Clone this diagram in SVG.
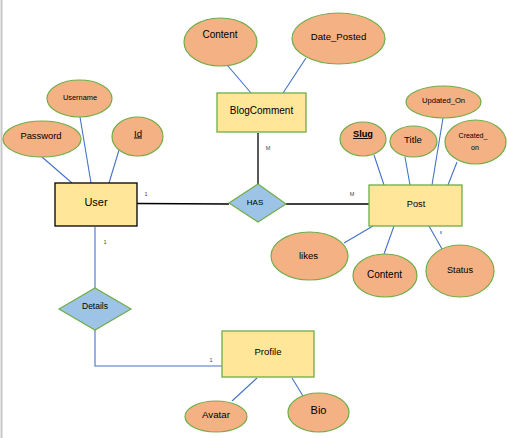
<svg xmlns="http://www.w3.org/2000/svg" width="507" height="438" viewBox="0 0 507 438">
<style>
.attr{fill:#F4B183;stroke:#70AD47;stroke-width:1.2}
.ent{fill:#FFE699;stroke:#70AD47;stroke-width:1.3}
.rel{fill:#9DC3E6;stroke:#70AD47;stroke-width:1.2}
.ln{stroke:#4472C4;stroke-width:1.1;fill:none}
.bk{stroke:#000;stroke-width:1.3;fill:none}
text{font-family:"Liberation Sans",Arial,sans-serif;fill:#000;text-anchor:middle}
.card{font-size:5.5px;fill:#444}
</style>
<rect x="0" y="0" width="507" height="438" fill="#fff"/>
<line x1="1.5" y1="0" x2="1.5" y2="438" stroke="#c8c8c8" stroke-width="2"/>
<g id="connectors">
<line class="ln" x1="228" y1="66" x2="251" y2="93"/>
<line class="ln" x1="306" y1="58" x2="283" y2="93"/>
<line class="ln" x1="42" y1="157" x2="72" y2="183"/>
<line class="ln" x1="80" y1="117" x2="91" y2="183"/>
<line class="ln" x1="119" y1="150" x2="109" y2="183"/>
<line class="ln" x1="374" y1="155" x2="384" y2="185"/>
<line class="ln" x1="405" y1="157" x2="410" y2="185"/>
<line class="ln" x1="443" y1="118" x2="432" y2="185"/>
<line class="ln" x1="457" y1="162" x2="448" y2="185"/>
<line class="ln" x1="373" y1="226" x2="344" y2="243"/>
<line class="ln" x1="394" y1="226" x2="384" y2="254"/>
<line class="ln" x1="429" y1="226" x2="442" y2="249"/>
<line class="ln" x1="441" y1="231" x2="441" y2="234"/>
<line class="ln" x1="257" y1="378" x2="232" y2="401"/>
<line class="ln" x1="292" y1="378" x2="303" y2="396"/>
<line class="bk" x1="137" y1="203.5" x2="229" y2="204"/>
<line class="bk" x1="258" y1="133" x2="258" y2="184"/>
<line class="bk" x1="286" y1="204" x2="369" y2="204"/>
<line class="ln" x1="95" y1="227" x2="95" y2="288"/>
<polyline class="ln" points="95,330 95,366 222,366"/>
<text class="card" x="146" y="196">1</text>
<text class="card" x="268" y="150">M</text>
<text class="card" x="352" y="196">M</text>
<text class="card" x="105" y="244">1</text>
<text class="card" x="211" y="362">1</text>
</g>
<g id="blogcomment">
<rect class="ent" x="217" y="93" width="89" height="39"/>
<text x="261.5" y="114" font-size="10">BlogComment</text>
</g>
<g id="bc-content">
<ellipse class="attr" cx="220.5" cy="42" rx="36.5" ry="24"/>
<text x="220" y="37.5" font-size="10">Content</text>
</g>
<g id="date-posted">
<ellipse class="attr" cx="338.5" cy="38.5" rx="46.5" ry="25.5"/>
<text x="338.5" y="40" font-size="9.6">Date_Posted</text>
</g>
<g id="user">
<rect x="55" y="183" width="82" height="43" fill="#FFE699" stroke="#000" stroke-width="1.3"/>
<text x="96" y="206" font-size="11">User</text>
</g>
<g id="username">
<ellipse class="attr" cx="79.5" cy="98.5" rx="32.5" ry="18.5"/>
<text x="80" y="99.5" font-size="7.4">Username</text>
</g>
<g id="password">
<ellipse class="attr" cx="42" cy="139" rx="39" ry="18"/>
<text x="41" y="138.5" font-size="9.4">Password</text>
</g>
<g id="id">
<ellipse class="attr" cx="137.5" cy="136.5" rx="25.5" ry="19.5"/>
<text x="138" y="136.5" font-size="9.6" text-decoration="underline">Id</text>
</g>
<g id="has">
<polygon class="rel" points="229,203 258,184 286,204 258,222"/>
<text x="255" y="205" font-size="8">HAS</text>
</g>
<g id="post">
<rect class="ent" x="369" y="185" width="93" height="41"/>
<text x="416" y="206.5" font-size="9.2">Post</text>
</g>
<g id="slug">
<ellipse class="attr" cx="363" cy="139" rx="23" ry="17"/>
<text x="363" y="137" font-size="9.2" font-weight="bold" text-decoration="underline">Slug</text>
</g>
<g id="title">
<ellipse class="attr" cx="413.5" cy="141.5" rx="23.5" ry="15.5"/>
<text x="413" y="142.5" font-size="9.6">Title</text>
</g>
<g id="updated-on">
<ellipse class="attr" cx="443.5" cy="102" rx="37.5" ry="16"/>
<text x="443.5" y="103" font-size="7.6">Updated_On</text>
</g>
<g id="created-on">
<ellipse class="attr" cx="475.5" cy="142" rx="30.5" ry="22"/>
<text x="473" y="137.5" font-size="7">Created_</text>
<text x="475" y="149.5" font-size="7">on</text>
</g>
<g id="likes">
<ellipse class="attr" cx="309.5" cy="256" rx="38.5" ry="24"/>
<text x="308.5" y="258.5" font-size="9.6">likes</text>
</g>
<g id="post-content">
<ellipse class="attr" cx="385" cy="275.5" rx="32" ry="21.5"/>
<text x="384.5" y="277.5" font-size="10">Content</text>
</g>
<g id="status">
<ellipse class="attr" cx="460" cy="271" rx="34" ry="26"/>
<text x="460" y="272.5" font-size="9.2">Status</text>
</g>
<g id="details">
<polygon class="rel" points="59,309 95,288 131,309 95,330"/>
<text x="95" y="308.5" font-size="8.5">Details</text>
</g>
<g id="profile">
<rect class="ent" x="222" y="331" width="92" height="46"/>
<text x="268" y="354.5" font-size="9.5">Profile</text>
</g>
<g id="avatar">
<ellipse class="attr" cx="216" cy="416.5" rx="31" ry="15.5"/>
<text x="216" y="417.5" font-size="9.7">Avatar</text>
</g>
<g id="bio">
<ellipse class="attr" cx="318.5" cy="412.5" rx="30.5" ry="19.5"/>
<text x="318.5" y="414" font-size="11">Bio</text>
</g>
</svg>
